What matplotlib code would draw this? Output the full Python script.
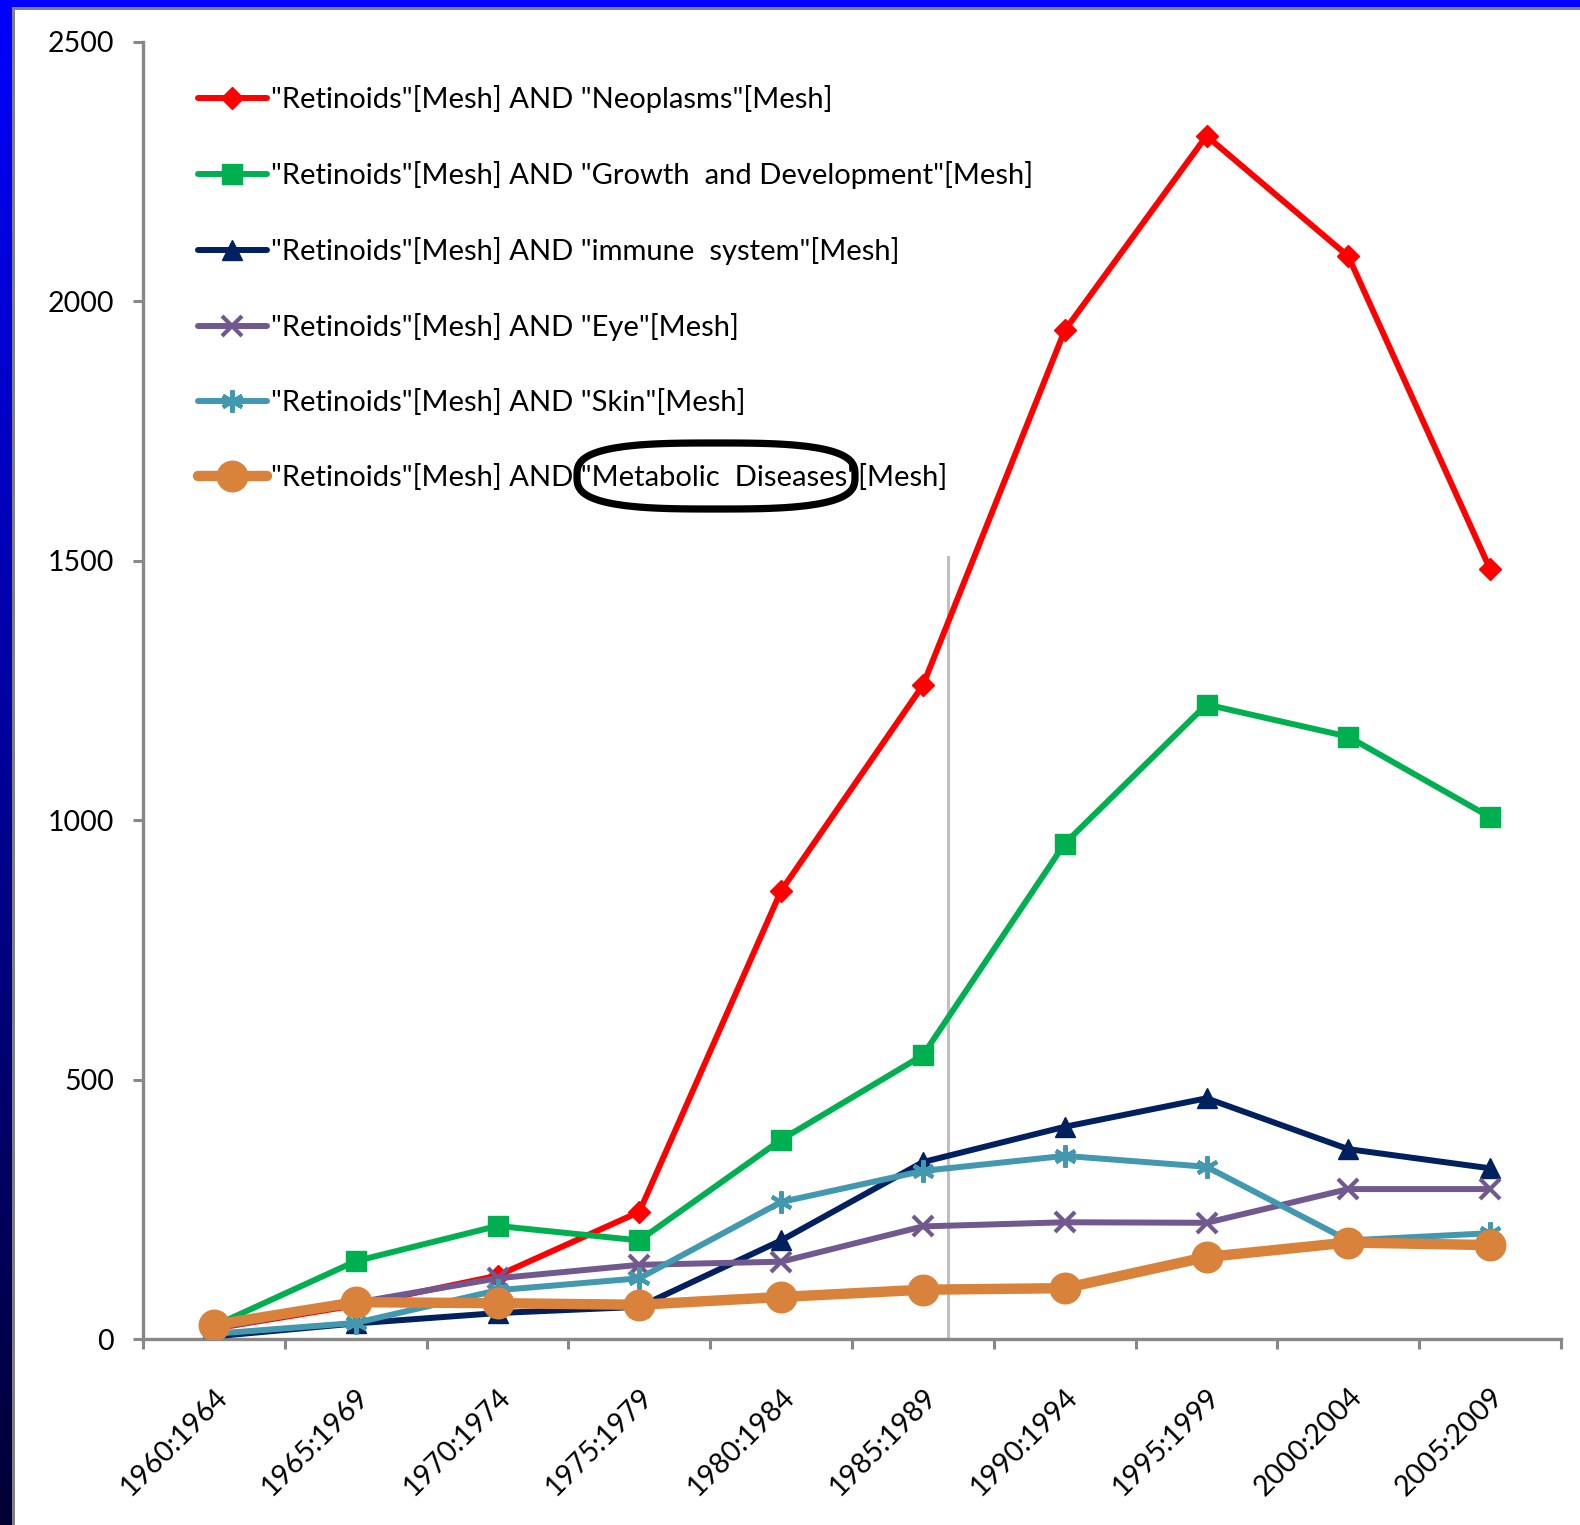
import numpy as np
import matplotlib
matplotlib.use("Agg")
import matplotlib.pyplot as plt
from matplotlib.patches import Rectangle, Polygon
from matplotlib.transforms import IdentityTransform
from matplotlib.colors import LinearSegmentedColormap

categories = ["1960:1964", "1965:1969", "1970:1974", "1975:1979", "1980:1984",
              "1985:1989", "1990:1994", "1995:1999", "2000:2004", "2005:2009"]

neoplasms = [20, 65, 122, 245, 864, 1260, 1944, 2319, 2087, 1484]
growth = [25, 150, 218, 190, 384, 547, 955, 1223, 1161, 1006]
immune = [5, 30, 50, 62, 190, 341, 409, 464, 366, 329]
eye = [20, 70, 117, 143, 149, 217, 225, 224, 289, 289]
skin = [10, 31, 94, 117, 264, 324, 353, 332, 190, 204]
metabolic = [27, 71, 69, 66, 81, 95, 98, 158, 186, 181]

labels = ['"Retinoids"[Mesh] AND "Neoplasms"[Mesh]',
          '"Retinoids"[Mesh] AND "Growth  and Development"[Mesh]',
          '"Retinoids"[Mesh] AND "immune  system"[Mesh]',
          '"Retinoids"[Mesh] AND "Eye"[Mesh]',
          '"Retinoids"[Mesh] AND "Skin"[Mesh]',
          '"Retinoids"[Mesh] AND "Metabolic  Diseases"[Mesh]']

divider_pos = 5.18
divider_top = 1507

plt.rcParams['font.family'] = ['Lato', 'DejaVu Sans']

W, H = 1580, 1525
fig = plt.figure(figsize=(W / 100, H / 100), dpi=100)
fig.patch.set_facecolor('white')

# frame decorations
ax_grad = fig.add_axes([0, 0, 12 / W, 1])
grad = np.linspace(0, 1, 256).reshape(-1, 1)
cmap = LinearSegmentedColormap.from_list('bd', ['#0000FF', '#000099', '#000033'])
ax_grad.imshow(grad, aspect='auto', cmap=cmap, extent=[0, 1, 0, 1], origin='upper')
ax_grad.axis('off')
fig.patches.append(Rectangle((0, 1 - 7 / H), 1, 7 / H, transform=fig.transFigure,
                             facecolor='#0000FF', edgecolor='none', zorder=5))
fig.patches.append(Rectangle((12 / W, 1 - 10 / H), 1, 3 / H, transform=fig.transFigure,
                             facecolor='#808080', edgecolor='none', zorder=5))
fig.patches.append(Rectangle((12 / W, 0), 3 / W, 1 - 7 / H, transform=fig.transFigure,
                             facecolor='#808080', edgecolor='none', zorder=5))

ax = fig.add_axes([143 / W, 1 - 1339 / H, (1561 - 143) / W, (1339 - 42) / H])
x = np.arange(len(categories))

series = [
    (neoplasms, '#FF0000', 'D', 11, 4.3, None),
    (growth, '#00B050', 's', 15, 4.3, None),
    (immune, '#002060', '^', 14, 4.3, None),
    (eye, '#71588F', 'x', 15, 4.3, 3),
    (skin, '#4198AF', '*', 16, 4.3, None),
    (metabolic, '#D9823B', 'o', 22, 7.5, None),
]
handles = []
for (vals, col, mk, ms, lw, mew), lab in zip(series, labels):
    if mk == '*':
        mk = (6, 2, 0)
        mew = 3
    kw = dict(color=col, marker=mk, markersize=ms, linewidth=lw, label=lab,
              markerfacecolor=col, markeredgecolor=col, solid_capstyle='round')
    if mew is not None:
        kw['markeredgewidth'] = mew
    h, = ax.plot(x, vals, **kw)
    handles.append(h)

ax.plot([divider_pos, divider_pos], [0, divider_top], color='#BFBFBF', linewidth=2.2, zorder=0.5)

ax.set_xlim(-0.5, len(categories) - 0.5)
ax.set_ylim(0, 2500)
ax.set_yticks([0, 500, 1000, 1500, 2000, 2500])
ax.set_xticks(x)
ax.set_xticklabels(categories, rotation=45, ha='right', va='top', rotation_mode='anchor')
ax.set_xticks(np.arange(-0.5, len(categories), 1), minor=True)
ax.tick_params(axis='x', which='major', length=0, pad=32, labelsize=20.5)
ax.tick_params(axis='x', which='minor', length=7, width=2.2, color='#888888', direction='out')
ax.tick_params(axis='y', which='major', length=7, width=2.2, color='#888888', pad=14, labelsize=20.5)
for s in ['top', 'right']:
    ax.spines[s].set_visible(False)
for s in ['left', 'bottom']:
    ax.spines[s].set_color('#888888')
    ax.spines[s].set_linewidth(2.4)
ax.spines['bottom'].set_zorder(0.6)

leg = fig.legend(handles=handles, loc='upper left', bbox_to_anchor=(198 / W, 1 - 85 / H),
                 frameon=False, fontsize=21, handlelength=2.35, handletextpad=0.15,
                 labelspacing=1.645, borderaxespad=0, borderpad=0)

# annotation ellipse (superellipse) around "Metabolic Diseases", in pixel coords
cx, cy, a, b, n = 716, H - 476, 139, 33, 3.0
t = np.linspace(0, 2 * np.pi, 400)
px = cx + a * np.sign(np.cos(t)) * np.abs(np.cos(t)) ** (2 / n)
py = cy + b * np.sign(np.sin(t)) * np.abs(np.sin(t)) ** (2 / n)
fig.patches.append(Polygon(np.column_stack([px, py]), closed=True,
                           transform=IdentityTransform(), facecolor='none',
                           edgecolor='black', linewidth=5.2, zorder=10))

fig.savefig('out.png', dpi=100)
